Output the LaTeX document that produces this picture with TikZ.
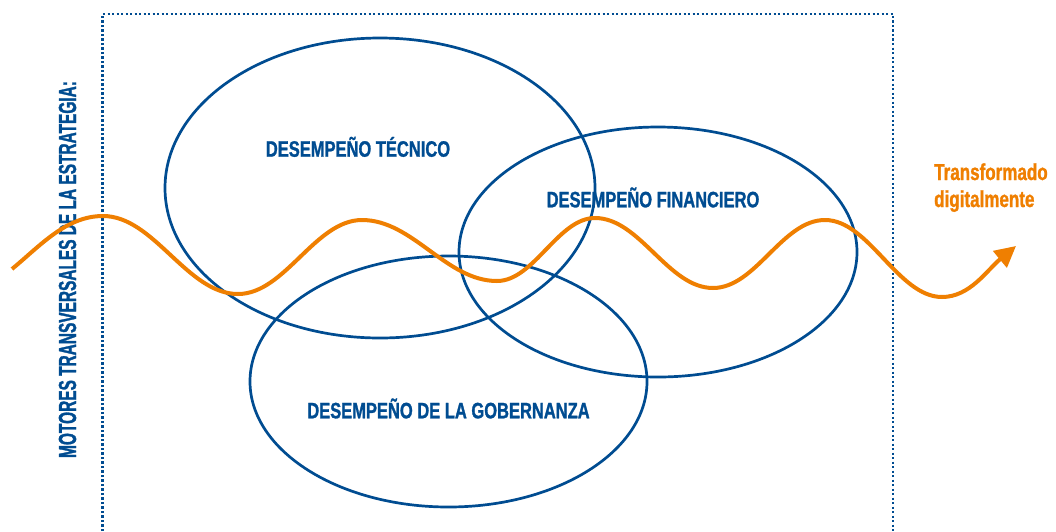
\documentclass[tikz,border=0pt]{standalone}
\usepackage{fontspec}
\usetikzlibrary{arrows.meta}
\newfontfamily\lblfont{Liberation Sans}[FakeStretch=0.74,FakeBold=1.2]
\newfontfamily\vertfont{Liberation Sans}[FakeStretch=0.625,FakeBold=1.2]
\definecolor{dblue}{RGB}{0,76,145}
\definecolor{dorange}{RGB}{239,127,1}
\tikzset{
  ring/.style={draw=dblue, line width=2.7pt},
  frameline/.style={draw=dblue, line width=2.6pt, dash pattern=on 2.4pt off 2.1pt},
  wave/.style={draw=dorange, line width=4pt},
  lbl/.style={text=dblue, font=\lblfont\bfseries\fontsize{22.3}{26}\selectfont, inner sep=0pt, anchor=base},
  olbl/.style={text=dorange, font=\lblfont\bfseries\fontsize{23}{27}\selectfont, inner sep=0pt, anchor=base west},
  vlbl/.style={text=dblue, font=\vertfont\bfseries\fontsize{24.7}{28}\selectfont, inner sep=0pt, anchor=base, rotate=90}
}
\begin{document}
\begin{tikzpicture}[x=1pt,y=-1pt]
\useasboundingbox (0,0) rectangle (1056,531);
% dotted frame (open at the bottom)
\draw[frameline] (102.5,531) -- (102.5,14) -- (893,14) -- (893,531);
% ellipses
\draw[ring] (380,188) ellipse [x radius=215pt, y radius=150pt];
\draw[ring] (658,252) ellipse [x radius=199pt, y radius=125pt];
\draw[ring] (448.5,381.5) ellipse [x radius=198.5pt, y radius=125.5pt];
% labels
\node[lbl] (tec) at (358,156.7) {DESEMPEÑO TÉCNICO};
\node[lbl] (fin) at (653,207.3) {DESEMPEÑO FINANCIERO};
\node[lbl] (gob) at (448.5,418.3) {DESEMPEÑO DE LA GOBERNANZA};
\node[vlbl] (mot) at (76,269.5) {MOTORES TRANSVERSALES DE LA ESTRATEGIA:};
\node[olbl] (tr1) at (934,180) {Transformado};
\node[olbl] (tr2) at (934,207) {digitalmente};
% wave
\coordinate (w0) at (12,269);
\coordinate (w1) at (103,216);
\coordinate (w2) at (238,294);
\coordinate (w3) at (362,220);
\coordinate (w4) at (497,281);
\coordinate (w5) at (595,218);
\coordinate (w6) at (713,288);
\coordinate (w7) at (825,220);
\coordinate (w8) at (942,297);
\coordinate (w9) at (1016,246);
\draw[wave, -{Triangle[length=21pt,width=21pt]}]
  (w0) .. controls (40,246) and (66,216) .. (w1)
       .. controls (154,216) and (187,294) .. (w2)
       .. controls (285,294) and (315,220) .. (w3)
       .. controls (413,220) and (446,281) .. (w4)
       .. controls (534,281) and (558,218) .. (w5)
       .. controls (640,218) and (668,288) .. (w6)
       .. controls (756,288) and (782,220) .. (w7)
       .. controls (869,220) and (898,297) .. (w8)
       .. controls (970,297) and (987,270) .. (w9);
\end{tikzpicture}
\end{document}
